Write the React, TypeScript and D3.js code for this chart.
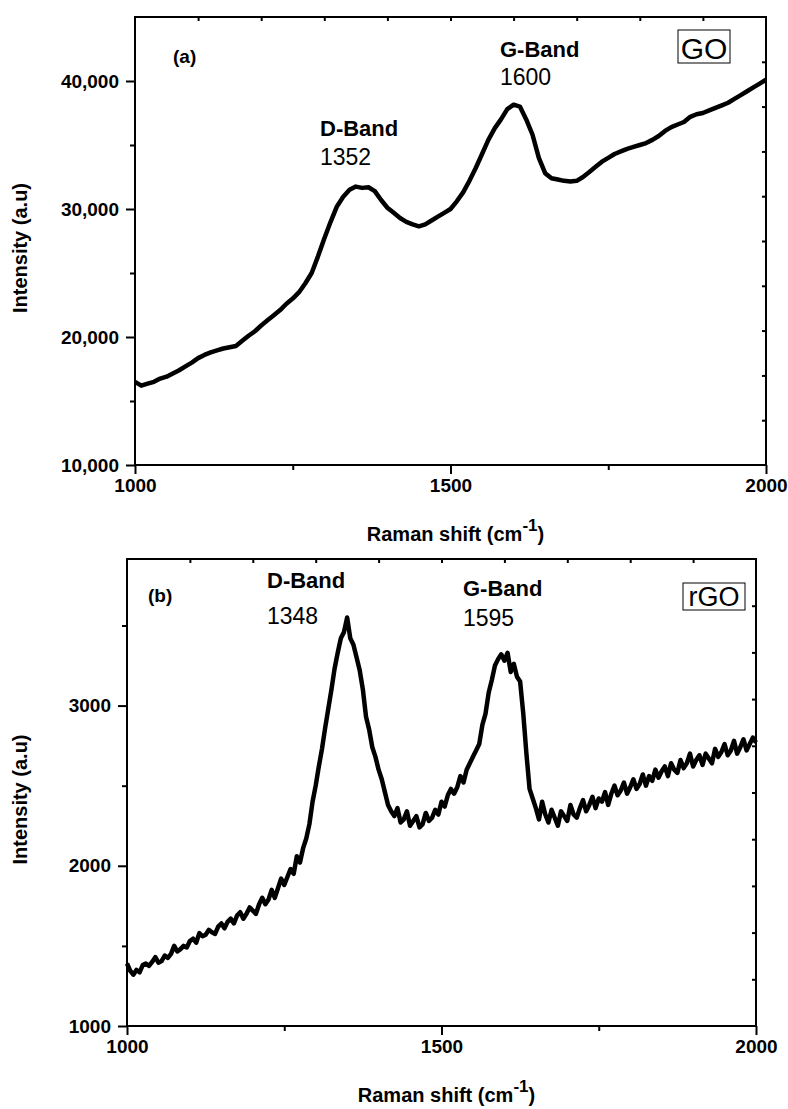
import React, { useEffect, useRef } from 'react';
import * as d3 from 'd3';

// Raman shift grids (cm-1)
const goShifts = d3.range(1000, 2001, 10);
const rgoShifts = d3.range(1000, 2001, 5);

// GO spectrum, every 10 cm-1
const goIntensity = [
  16500, 16200, 16350, 16500, 16750, 16900, 17150, 17400, 17700, 18000,
  18350, 18600, 18800, 18950, 19100, 19200, 19300, 19700, 20100, 20450,
  20900, 21300, 21700, 22100, 22600, 23000, 23500, 24200, 25000, 26300,
  27700, 29000, 30200, 30950, 31500, 31750, 31650, 31700, 31400, 30700,
  30100, 29700, 29300, 29000, 28800, 28650, 28800, 29100, 29400, 29700,
  30000, 30600, 31300, 32200, 33200, 34300, 35400, 36300, 37000, 37800,
  38150, 38000, 37000, 35800, 34000, 32800, 32400, 32300, 32200, 32150,
  32200, 32500, 32900, 33300, 33700, 34000, 34300, 34500, 34700, 34850,
  35000, 35150, 35400, 35700, 36100, 36400, 36600, 36800, 37200, 37400,
  37500, 37700, 37900, 38100, 38300, 38600, 38900, 39200, 39500, 39800,
  40100
];

// rGO spectrum, every 5 cm-1
const rgoIntensity = [
  1390, 1345, 1320, 1350, 1335, 1380, 1390, 1375, 1400, 1430,
  1395, 1405, 1440, 1425, 1450, 1500, 1465, 1480, 1500, 1490,
  1530, 1545, 1520, 1580, 1560, 1570, 1600, 1585, 1575, 1620,
  1640, 1610, 1650, 1670, 1640, 1690, 1710, 1670, 1700, 1740,
  1720, 1700, 1760, 1800, 1760, 1790, 1850, 1800, 1860, 1920,
  1880, 1930, 1980, 1950, 2060, 2020, 2110, 2170, 2260, 2400,
  2500, 2620, 2730, 2860, 2980, 3100, 3230, 3330, 3420, 3460,
  3550, 3420, 3380, 3300, 3220, 3100, 2930, 2850, 2740, 2680,
  2600, 2540, 2460, 2380, 2340, 2310, 2360, 2270, 2290, 2340,
  2250, 2280, 2310, 2240, 2260, 2330, 2280, 2300, 2350, 2320,
  2400, 2370, 2440, 2480, 2450, 2490, 2560, 2520, 2600, 2640,
  2680, 2720, 2760, 2880, 2950, 3080, 3160, 3250, 3290, 3320,
  3280, 3330, 3210, 3260, 3180, 3150, 2950, 2700, 2480, 2420,
  2360, 2290, 2400, 2320, 2270, 2350, 2300, 2250, 2340, 2310,
  2280, 2380, 2320, 2300, 2360, 2410, 2340, 2380, 2430, 2360,
  2420, 2400, 2460, 2380, 2450, 2500, 2440, 2470, 2520, 2450,
  2490, 2540, 2480, 2510, 2570, 2500, 2560, 2530, 2600, 2550,
  2590, 2620, 2560, 2640, 2600, 2580, 2660, 2610, 2640, 2700,
  2620, 2660, 2690, 2630, 2700, 2670, 2640, 2730, 2680, 2710,
  2760, 2690, 2720, 2780, 2700, 2740, 2790, 2720, 2760, 2800,
  2770
];

const xMajor = [1000, 1500, 2000];
const xMinor = [1250, 1750];
const goMajor = [10000, 20000, 30000, 40000];
const goMinor = [15000, 25000, 35000];
const rgoMajor = [1000, 2000, 3000];
const rgoMinor = [1500, 2500, 3500];

const FONT = 'Liberation Sans, Arial, sans-serif';

const panels = [
  {
    box: { left: 135, right: 766, top: 17, bottom: 465 },
    yDomain: [10000, 45000],
    shifts: goShifts,
    values: goIntensity,
    major: goMajor,
    minor: goMinor,
    fmt: d3.format(','),
    tag: '(a)', tagPos: [173, 63],
    dBand: { name: 'D-Band', peak: '1352', x: 320, y1: 136, y2: 165 },
    gBand: { name: 'G-Band', peak: '1600', x: 500, y1: 57, y2: 85 },
    label: { text: 'GO', x: 678, y: 30, w: 52, h: 33, size: 30 },
    titleY: 541
  },
  {
    box: { left: 127, right: 756, top: 559, bottom: 1026 },
    yDomain: [1000, 3915],
    shifts: rgoShifts,
    values: rgoIntensity,
    major: rgoMajor,
    minor: rgoMinor,
    fmt: d3.format('d'),
    tag: '(b)', tagPos: [148, 602],
    dBand: { name: 'D-Band', peak: '1348', x: 267, y1: 588, y2: 624 },
    gBand: { name: 'G-Band', peak: '1595', x: 463, y1: 596, y2: 626 },
    label: { text: 'rGO', x: 683, y: 583, w: 62, h: 27, size: 27 },
    titleY: 1102
  }
];

const App = () => {
  const ref = useRef<SVGSVGElement>(null);

  useEffect(() => {
    const svg = d3.select(ref.current);
    svg.selectAll('*').remove();

    panels.forEach(p => {
      const { left, right, top, bottom } = p.box;
      const x = d3.scaleLinear().domain([1000, 2000]).range([left, right]);
      const y = d3.scaleLinear().domain(p.yDomain).range([bottom, top]);
      // top/right frame ticks split the frame in ten
      const fx = d3.scaleLinear().domain([0, 10]).range([left, right]);
      const fy = d3.scaleLinear().domain([0, 10]).range([bottom, top]);

      const g = svg.append('g');

      const styleAxis = (sel: any) => {
        sel.select('.domain').remove();
        sel.selectAll('line').attr('stroke', '#000').attr('stroke-width', 2);
        sel.selectAll('text')
          .attr('fill', '#000')
          .attr('font-family', FONT)
          .attr('font-size', 19)
          .attr('font-weight', 'bold');
      };

      // spectrum
      const line = d3.line<number>()
        .x((_, i) => x(p.shifts[i]))
        .y(d => y(d));
      g.append('path')
        .datum(p.values)
        .attr('fill', 'none')
        .attr('stroke', '#000')
        .attr('stroke-width', 4.5)
        .attr('stroke-linejoin', 'round')
        .attr('d', line);

      g.append('g').attr('transform', `translate(${left},0)`)
        .call(d3.axisLeft(y).tickValues(p.major).tickSize(9).tickPadding(7).tickFormat(p.fmt as any))
        .call(styleAxis);
      g.append('g').attr('transform', `translate(${left},0)`)
        .call(d3.axisLeft(y).tickValues(p.minor).tickSize(5).tickFormat(() => ''))
        .call(styleAxis);
      g.append('g').attr('transform', `translate(0,${bottom})`)
        .call(d3.axisBottom(x).tickValues(xMajor).tickSize(9).tickPadding(5).tickFormat(d3.format('d')))
        .call(styleAxis);
      g.append('g').attr('transform', `translate(0,${bottom})`)
        .call(d3.axisBottom(x).tickValues(xMinor).tickSize(5).tickFormat(() => ''))
        .call(styleAxis);
      g.append('g').attr('transform', `translate(0,${top})`)
        .call(d3.axisTop(fx).tickValues(d3.range(1, 10)).tickSize(-4).tickFormat(() => ''))
        .call(styleAxis);
      g.append('g').attr('transform', `translate(${right},0)`)
        .call(d3.axisRight(fy).tickValues(d3.range(1, 10)).tickSize(-4).tickFormat(() => ''))
        .call(styleAxis);

      g.append('rect')
        .attr('x', left).attr('y', top)
        .attr('width', right - left).attr('height', bottom - top)
        .attr('fill', 'none').attr('stroke', '#000').attr('stroke-width', 2);

      // annotations
      const txt = (s: string, tx: number, ty: number, size: number, bold: boolean) =>
        g.append('text').attr('x', tx).attr('y', ty)
          .attr('font-family', FONT).attr('font-size', size)
          .attr('font-weight', bold ? 'bold' : 'normal').text(s);

      txt(p.tag, p.tagPos[0], p.tagPos[1], 19, true);
      [p.dBand, p.gBand].forEach(b => {
        txt(b.name, b.x, b.y1, 22, true);
        txt(b.peak, b.x, b.y2, 23, false);
      });
      g.append('rect')
        .attr('x', p.label.x).attr('y', p.label.y)
        .attr('width', p.label.w).attr('height', p.label.h)
        .attr('fill', 'none').attr('stroke', '#000').attr('stroke-width', 1);
      txt(p.label.text, p.label.x + p.label.w / 2, p.label.y + p.label.h - 4, p.label.size, false)
        .attr('text-anchor', 'middle');

      // axis titles
      const cy = (top + bottom) / 2 + 7;
      g.append('text')
        .attr('transform', `translate(27,${cy}) rotate(-90)`)
        .attr('text-anchor', 'middle')
        .attr('font-family', FONT).attr('font-size', 20).attr('font-weight', 'bold')
        .text('Intensity (a.u)');

      const xt = g.append('text')
        .attr('x', (left + right) / 2 + 5).attr('y', p.titleY)
        .attr('text-anchor', 'middle')
        .attr('font-family', FONT).attr('font-size', 20).attr('font-weight', 'bold');
      xt.append('tspan').text('Raman shift (cm');
      xt.append('tspan').attr('dy', -10).attr('font-size', 17).text('-1');
      xt.append('tspan').attr('dy', 10).text(')');
    });
  }, []);

  return (
    <svg ref={ref} width={788} height={1109}
      style={{ position: 'absolute', left: 0, top: 0, background: '#fff' }} />
  );
};

export default App;
